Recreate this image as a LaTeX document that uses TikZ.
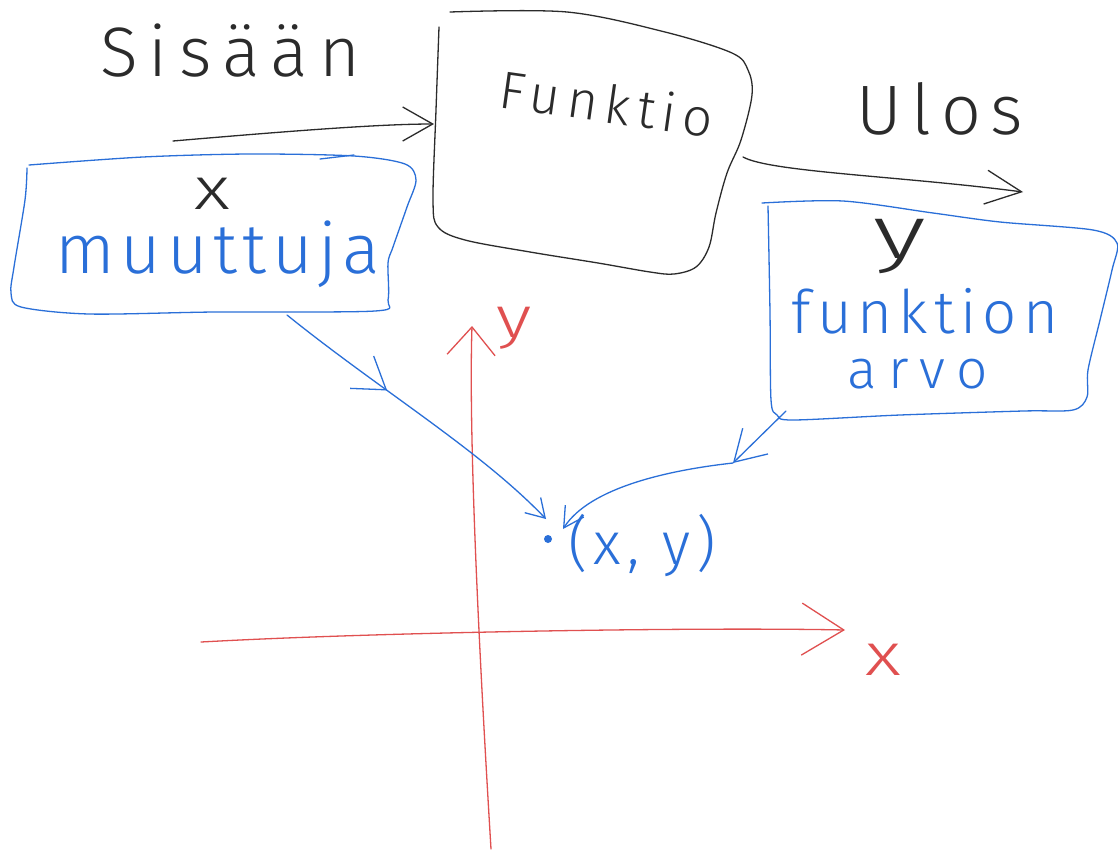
\documentclass[tikz,border=0pt]{standalone}
\usepackage{fontspec}
\usetikzlibrary{arrows.meta,decorations.markings}
\newfontfamily\hand{Fira Sans Light}
\definecolor{ink}{HTML}{2B2B2B}
\definecolor{pen}{HTML}{2A6FD8}
\definecolor{axis}{HTML}{E05050}
\tikzset{
  stroke/.style={line width=1.3pt, line cap=round, line join=round},
  word/.style={inner sep=0pt, font=\hand},
}
\newcommand{\fs}[2]{\fontsize{#1}{#1}\selectfont\addfontfeature{LetterSpace=#2}}
\begin{document}
\begin{tikzpicture}[x=1pt,y=-1pt]
\useasboundingbox[fill=white] (0,0) rectangle (1118,852);

% ---- labels ----
\node[word, ink, anchor=base] (sis) at (230,76) {\fs{70pt}{16}Sisään};
\node[word, ink, rotate=-8] (fun) at (607,103) {\fs{53pt}{13}Funktio};
\node[word, ink, anchor=base] (ulos) at (940,134) {\fs{70pt}{14}Ulos};
\node[word, ink, anchor=base, xscale=1.3] (xin) at (212,209) {\fs{60pt}{0}x};
\node[word, pen, anchor=base] (mut) at (218,273) {\fs{70pt}{8}muuttuja};
\node[word, ink, anchor=base, xscale=1.5] (yout) at (900,258) {\fs{75pt}{0}y};
\node[word, pen, anchor=base] (fnk) at (925,333) {\fs{60pt}{10}funktion};
\node[word, pen, anchor=base] (arvo) at (918,388) {\fs{55pt}{20}arvo};
\node[word, pen, anchor=base] (xy) at (642,564) {\fs{60pt}{10}(x, y)};
\node[word, axis, anchor=base, xscale=1.3] (ylab) at (514,337) {\fs{58pt}{0}y};
\node[word, axis, anchor=base, xscale=1.3] (xlab) at (883,675) {\fs{60pt}{0}x};

% ---- the function box ----
\draw[stroke, ink] plot[smooth, tension=0.55] coordinates {
  (439,27) (436,110) (433,200) (438,227) (465,240) (530,252) (598,263)
  (650,272) (674,274) (696,267) (709,247) (716,213) (727,173) (741,140)
  (752,95) (748,70) (732,53) (665,32) (567,12) (450,12)};

% ---- input box (muuttuja) ----
\draw[stroke, pen] plot[smooth, tension=0.5] coordinates {
  (29,165) (143,157) (250,154) (354,156) (405,164) (416,180) (407,207)
  (393,247) (388,263) (388,300) (375,311) (214,312) (89,314) (21,307)
  (11,293) (14,267) (25,200) (27,168)};
\draw[stroke, pen] (320,159) -- (354,155);

% ---- output box (funktion arvo) ----
\draw[stroke, pen] plot[smooth, tension=0.5] coordinates {
  (762,203) (843,201) (933,213) (1000,222) (1093,230) (1117,243)
  (1112,270) (1100,320) (1088,370) (1087,397) (1073,410) (1023,411)
  (900,415) (793,420) (777,415) (771,400) (770,313) (768,206)};

% ---- connector end points ----
\coordinate (inA) at (173,141);
\coordinate (inB) at (434,124);
\coordinate (outA) at (743,157);
\coordinate (outB) at (1023,192);
\coordinate (mutOut) at (287,315);
\coordinate (arvoOut) at (786,411);
\coordinate (bend) at (733,463);
\coordinate (yBot) at (491,849);
\coordinate (yTop) at (472,326);
\coordinate (xLeft) at (201,642);
\coordinate (xRight) at (845,630);
\coordinate (hitA) at (546,519);
\coordinate (hitB) at (563,529);

% ---- the point (x, y) ----
\node[circle, fill=pen, inner sep=0pt, minimum size=8pt] (pt) at (548,539) {};

% ---- black flow arrows ----
\draw[stroke, ink, -{Straight Barb[length=30pt,width=34pt]}]
  (inA) .. controls (290,131) and (380,124) .. (inB);
\draw[stroke, ink, -{Straight Barb[length=36pt,width=34pt]}]
  (outA) .. controls (770,172) and (900,176) .. (outB);

% ---- axes ----
\draw[stroke, axis, -{Straight Barb[length=28pt,width=48pt]}]
  (yBot) .. controls (482,700) and (468,450) .. (yTop);
\draw[stroke, axis, -{Straight Barb[length=42pt,width=52pt]}]
  (xLeft) .. controls (380,632) and (700,627) .. (xRight);

% ---- blue pointers to the point ----
\draw[stroke, pen, -{Straight Barb[length=18pt,width=22pt]},
  postaction={decorate},
  decoration={markings, mark=at position 0.38 with
    {\arrow{Straight Barb[length=30pt,width=40pt]}}}]
  (mutOut) .. controls (380,390) and (480,450) .. (hitA);
\draw[stroke, pen, -{Straight Barb[length=30pt,width=36pt]}] (arvoOut) -- (bend);
\draw[stroke, pen, -{Straight Barb[length=20pt,width=22pt]}]
  (bend) .. controls (670,470) and (590,487) .. (hitB);
\end{tikzpicture}
\end{document}
